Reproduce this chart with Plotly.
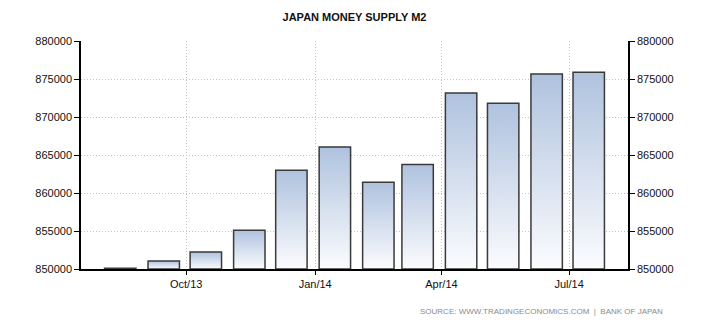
import plotly.graph_objects as go
import pandas as pd

# ---- data ----
months = ["2013-08-15", "2013-09-15", "2013-10-15", "2013-11-15", "2013-12-15", "2014-01-15",
          "2014-02-15", "2014-03-15", "2014-04-15", "2014-05-15", "2014-06-15", "2014-07-15"]
m2_values = [850100, 851050, 852250, 855100, 863000, 866050,
             861400, 863750, 873150, 871800, 875650, 875900]
tick_dates = ["2013-10-01", "2014-01-01", "2014-04-01", "2014-07-01"]
tick_labels = ["Oct/13", "Jan/14", "Apr/14", "Jul/14"]
y_ticks = [850000, 855000, 860000, 865000, 870000, 875000, 880000]
y_min, y_max = 850000, 880000

title = "JAPAN MONEY SUPPLY M2"
source = "SOURCE: WWW.TRADINGECONOMICS.COM  |  BANK OF JAPAN"

FONT = "Liberation Sans, Arial, sans-serif"
half_width = pd.Timedelta(hours=11.2 * 24)

fig = go.Figure()
for d, v in zip(months, m2_values):
    c = pd.Timestamp(d)
    x0, x1 = c - half_width, c + half_width
    fig.add_trace(go.Scatter(
        x=[x0, x0, x1, x1, x0],
        y=[y_min, v, v, y_min, y_min],
        mode="lines",
        fill="toself",
        fillgradient=dict(type="vertical",
                          colorscale=[[0, "#fbfcfe"], [1, "#afc2de"]]),
        line=dict(color="#3a3a3a", width=1.5),
        hoverinfo="text",
        text=f"{c:%b/%y}: {v}",
        showlegend=False,
    ))

# invisible trace on right axis
fig.add_trace(go.Scatter(x=[months[0]], y=[y_min], yaxis="y2", mode="markers",
                         marker=dict(opacity=0), showlegend=False, hoverinfo="skip"))

axis_font = dict(family=FONT, size=11, color="#111111")
grid = dict(showgrid=True, gridcolor="#c4c4c4", griddash="1px,2px", gridwidth=1)
fig.update_layout(
    width=710, height=325,
    margin=dict(l=81, r=82, t=41, b=56),
    paper_bgcolor="white", plot_bgcolor="white",
    title=dict(text=title, x=0.5, xref="paper", y=1 - 17 / 325, yanchor="middle",
               font=dict(family=FONT, size=11, color="#111111", weight="bold")),
    xaxis=dict(
        type="date",
        range=["2013-07-18", "2014-08-12"],
        tickvals=tick_dates, ticktext=tick_labels,
        ticks="outside", ticklen=4, tickcolor="#000", tickwidth=1,
        showline=True, linecolor="#000", linewidth=1.5,
        tickfont=axis_font, zeroline=False, **grid,
    ),
    yaxis=dict(
        range=[y_min, y_max], tickvals=y_ticks,
        tickformat="d",
        ticks="outside", ticklen=5, tickcolor="#000",
        showline=True, linecolor="#000", linewidth=1.5,
        tickfont=axis_font, zeroline=False, **grid,
    ),
    yaxis2=dict(
        range=[y_min, y_max], tickvals=y_ticks, tickformat="d",
        overlaying="y", side="right",
        ticks="outside", ticklen=5, tickcolor="#000",
        showline=True, linecolor="#000", linewidth=1.5,
        showgrid=False, tickfont=axis_font, zeroline=False,
    ),
    annotations=[dict(
        text=source, xref="paper", yref="paper", x=(665 - 81) / 547, y=(269 - 311) / 228,
        xanchor="right", yanchor="middle", showarrow=False,
        font=dict(family=FONT, size=8, color="#8a8a8a"),
    )],
)

fig.write_html("out.html")
